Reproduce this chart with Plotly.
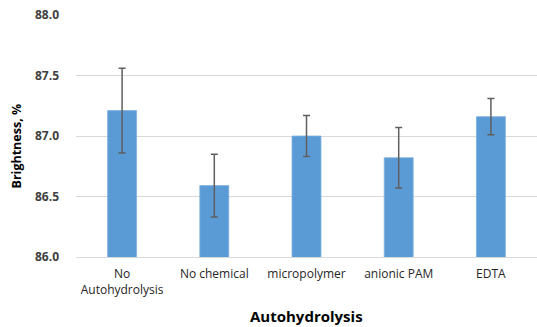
import plotly.graph_objects as go

categories = ["No<br>Autohydrolysis", "No chemical", "micropolymer", "anionic PAM", "EDTA"]
brightness = [87.21, 86.59, 87.00, 86.82, 87.16]
error = [0.35, 0.26, 0.17, 0.25, 0.15]
y_ticks = [86.0, 86.5, 87.0, 87.5, 88.0]

fig = go.Figure(go.Bar(
    x=categories, y=brightness,
    marker=dict(color="#5b9bd5", line=dict(color="#7fb0de", width=0.8)),
    error_y=dict(type="data", array=error, visible=True, color="#5f5f5f", thickness=1.5, width=3.5),
))

fig.update_layout(
    width=537, height=327,
    margin=dict(l=76, r=0, t=15, b=70, autoexpand=False),
    paper_bgcolor="white", plot_bgcolor="white",
    bargap=0.686,
    showlegend=False,
    font=dict(family="Open Sans", color="#262626"),
    xaxis=dict(
        tickfont=dict(size=12, color="#262626"),
        showgrid=False, showline=True, linecolor="#d9d9d9", linewidth=1,
        ticklabelstandoff=6,
    ),
    yaxis=dict(
        range=[86.0, 88.0], tickvals=y_ticks, tickformat=".1f",
        tickfont=dict(size=12, color="#404040", weight="bold"),
        showgrid=True, gridcolor="#d9d9d9", gridwidth=1,
        zeroline=False, ticklabelstandoff=16, ticklabeloverflow="allow",
    ),
    annotations=[
        dict(text="<b>Autohydrolysis</b>", xref="paper", yref="paper", x=0.5, y=-0.245,
             xanchor="center", yanchor="middle", showarrow=False,
             font=dict(size=15, color="#000000")),
        dict(text="<b>Brightness, %</b>", xref="paper", yref="paper", x=-0.13, y=0.457,
             xanchor="center", yanchor="middle", showarrow=False, textangle=-90,
             font=dict(size=12.5, color="#000000")),
    ],
)

fig.write_html(
    "out.html",
    config={"displayModeBar": False},
    post_script="document.body.style.margin='0';document.body.style.overflow='hidden';",
)
